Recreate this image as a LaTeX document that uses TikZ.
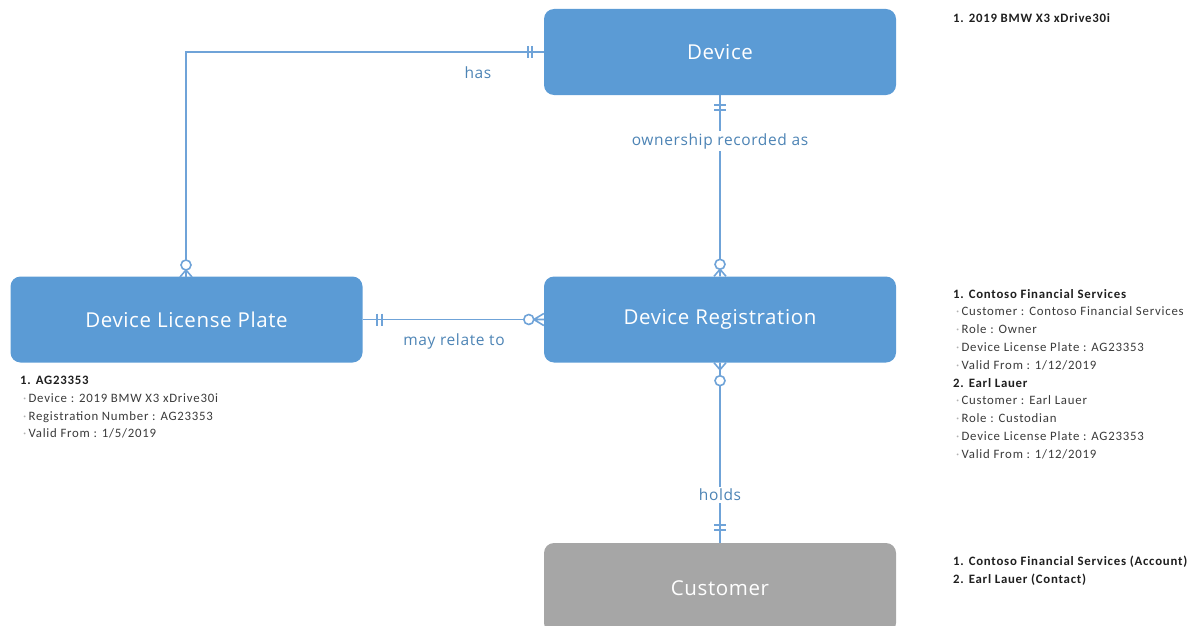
\documentclass[tikz,border=0pt]{standalone}
\usepackage{fontspec}
\setmainfont{Open Sans}
\newfontfamily\listfont{Carlito}[LetterSpace=6]
\newfontfamily\boxfont{Open Sans}[LetterSpace=3]
\newfontfamily\lblfont{Open Sans}[LetterSpace=4]
\usetikzlibrary{calc}
\definecolor{boxblue}{HTML}{5B9BD5}
\definecolor{linkblue}{HTML}{6FA3D8}
\definecolor{boxgray}{HTML}{A6A6A6}
\definecolor{txtdark}{HTML}{1F1F1F}
\definecolor{txtsub}{HTML}{3A3A3A}
\tikzset{
  entity/.style={fill=boxblue, draw=none, rounded corners=10pt, minimum width=352pt, minimum height=86pt, text=white, font=\boxfont\fontsize{20.5}{24}\selectfont, inner sep=0pt},
  grayentity/.style={entity, fill=boxgray},
  link/.style={draw=linkblue, line width=1.6pt},
  tick/.style={draw=linkblue, line width=1.6pt},
  lbl/.style={text=boxblue!85!black, font=\lblfont\fontsize{15.5}{18}\selectfont, inner sep=2pt},
  gaplbl/.style={lbl, fill=white},
  listtxt/.style={align=left, anchor=north west, inner sep=0pt, text=txtsub, font=\listfont\fontsize{12.8}{17.8}\selectfont}
}
\newcommand{\hd}[1]{{\bfseries\color{txtdark}#1}}
\newcommand{\subitm}[1]{\hspace*{3pt}{\color{gray!60}\textperiodcentered}\,#1}
\begin{document}
\begin{tikzpicture}[x=1pt,y=-1pt]
\useasboundingbox (0,0) rectangle (1199,626);
% entities
\node[entity] (dev) at (720,52) {Device};
\node[entity] (dlp) at (186.5,319.5) {Device License Plate};
\node[entity] (reg) at (720,319.5) {Device Registration};
\node[grayentity, minimum height=90pt] (cus) at (720,588) {Customer};
% connector: has
\coordinate (hasc) at (186,52);
\draw[link] (dev.west) -- (hasc) -- (dlp.north -| hasc);
\draw[tick] ($(dev.west)+(-12,-6)$) -- ++(0,12);
\draw[tick] ($(dev.west)+(-16,-6)$) -- ++(0,12);
\draw[tick, fill=white] (186,265) circle (5pt);
\draw[tick] (186,270) -- (180,277) (186,270) -- (186,277) (186,270) -- (192,277);
\node[lbl] (haslbl) at (478,73) {has};
% connector: ownership recorded as
\draw[link] (dev.south) -- (reg.north);
\draw[tick] ($(dev.south)+(-6,10)$) -- ++(12,0);
\draw[tick] ($(dev.south)+(-6,15)$) -- ++(12,0);
\draw[tick, fill=white] ($(reg.north)+(0,-12)$) circle (5pt);
\draw[tick] ($(reg.north)+(0,-7)$) -- ++(-6,7) ($(reg.north)+(0,-7)$) -- ++(0,7) ($(reg.north)+(0,-7)$) -- ++(6,7);
\node[gaplbl] (ownlbl) at (720,141) {ownership recorded as};
% connector: may relate to
\draw[link] (dlp.east) -- (reg.west);
\draw[tick] ($(dlp.east)+(14,-6)$) -- ++(0,12);
\draw[tick] ($(dlp.east)+(19,-6)$) -- ++(0,12);
\draw[tick, fill=white] ($(reg.west)+(-15,0)$) circle (5pt);
\draw[tick] ($(reg.west)+(-10,0)$) -- ++(10,-6) ($(reg.west)+(-10,0)$) -- ++(10,0) ($(reg.west)+(-10,0)$) -- ++(10,6);
\node[lbl] (maylbl) at (454,341) {may relate to};
% connector: holds
\draw[link] (reg.south) -- (cus.north);
\draw[tick] ($(reg.south)+(0,7)$) -- ++(-6,-7) ($(reg.south)+(0,7)$) -- ++(0,-7) ($(reg.south)+(0,7)$) -- ++(6,-7);
\draw[tick, fill=white] ($(reg.south)+(0,18)$) circle (5pt);
\draw[tick] ($(cus.north)+(-6,-13)$) -- ++(12,0);
\draw[tick] ($(cus.north)+(-6,-18)$) -- ++(12,0);
\node[gaplbl] (holdlbl) at (720,495) {holds};
% lists
\node[listtxt] (l1) at (953,13) {\hd{1. 2019 BMW X3 xDrive30i}};
\node[listtxt] (l2) at (953,289) {\hd{1. Contoso Financial Services}\\
\subitm{Customer : Contoso Financial Services}\\
\subitm{Role : Owner}\\
\subitm{Device License Plate : AG23353}\\
\subitm{Valid From : 1/12/2019}\\
\hd{2. Earl Lauer}\\
\subitm{Customer : Earl Lauer}\\
\subitm{Role : Custodian}\\
\subitm{Device License Plate : AG23353}\\
\subitm{Valid From : 1/12/2019}};
\node[listtxt] (l3) at (20,376) {\hd{1. AG23353}\\
\subitm{Device : 2019 BMW X3 xDrive30i}\\
\subitm{Registration Number : AG23353}\\
\subitm{Valid From : 1/5/2019}};
\node[listtxt] (l4) at (953,556) {\hd{1. Contoso Financial Services (Account)}\\
\hd{2. Earl Lauer (Contact)}};
\end{tikzpicture}
\end{document}
